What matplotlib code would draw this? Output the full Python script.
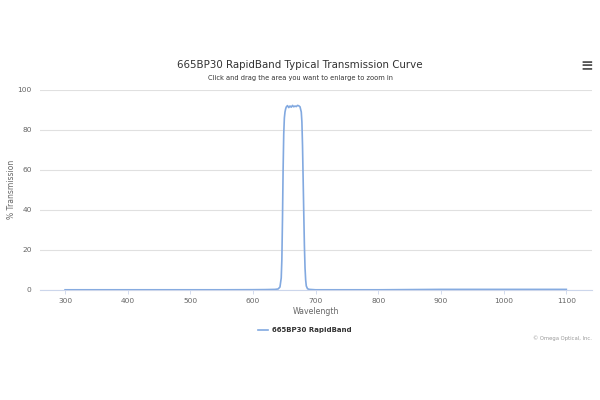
import matplotlib
matplotlib.use("Agg")
import matplotlib.pyplot as plt

# transmission curve
wavelength = [300, 350, 400, 450, 500, 550, 600, 620, 635, 640, 643, 645, 646, 647,
              648, 649, 650, 651, 652, 653, 655, 657, 659, 661, 663, 665, 667, 669,
              671, 673, 675, 677, 678, 679, 680, 681, 682, 683, 684, 685, 687, 690,
              700, 750, 800, 850, 900, 950, 1000, 1050, 1100]
transmission = [0.1, 0.1, 0.1, 0.1, 0.1, 0.1, 0.15, 0.2, 0.3, 0.5, 1.5, 6, 15, 35,
                60, 78, 86, 89, 90.5, 91.5, 92.2, 91.2, 92.0, 91.4, 92.3, 91.6, 92.0, 91.7,
                92.3, 92.1, 91.6, 89, 84, 72, 55, 38, 22, 11, 5, 2, 0.6, 0.3,
                0.1, 0.1, 0.1, 0.2, 0.3, 0.3, 0.3, 0.3, 0.3]

xticks = [300, 400, 500, 600, 700, 800, 900, 1000, 1100]
yticks = [0, 20, 40, 60, 80, 100]

series_name = "665BP30 RapidBand"
line_color = "#82a9e0"
text_color = "#666666"
grid_color = "#e0e0e0"

plt.rcParams["font.family"] = "DejaVu Sans"

fig = plt.figure(figsize=(6, 4), dpi=100)
ax = fig.add_axes([40 / 600, 1 - 290 / 400, 552 / 600, 200 / 400])

ax.plot(wavelength, transmission, color=line_color, lw=1.2, solid_joinstyle="round")

ax.set_xlim(260, 1141)
ax.set_ylim(0, 100)
ax.set_xticks(xticks)
ax.set_yticks(yticks)
ax.tick_params(axis="x", colors=text_color, labelsize=5.4, length=3, width=0.6,
               color="#ccd6eb", pad=3)
ax.tick_params(axis="y", colors=text_color, labelsize=5.4, length=0, pad=6)
ax.grid(axis="y", color=grid_color, lw=0.8)
ax.set_axisbelow(True)
for side in ["top", "right", "left"]:
    ax.spines[side].set_visible(False)
ax.spines["bottom"].set_color("#ccd6eb")
ax.spines["bottom"].set_linewidth(0.8)

ax.set_xlabel("Wavelength", fontsize=5.6, color=text_color, labelpad=2)
fig.text(12 / 600, 1 - 189 / 400, "% Transmission", rotation=90, fontsize=5.5,
         color=text_color, ha="center", va="center")

fig.text(0.5, 1 - 65 / 400, "665BP30 RapidBand Typical Transmission Curve",
         fontsize=7.4, color="#333333", ha="center", va="center")
fig.text(0.5, 1 - 78 / 400, "Click and drag the area you want to enlarge to zoom in",
         fontsize=4.8, color="#333333", ha="center", va="center")
fig.text(587 / 600, 1 - 66 / 400, "\u2261", fontsize=11, color="#555555",
         ha="center", va="center", fontweight="bold")

# legend
fig.lines.append(plt.Line2D([258 / 600, 268 / 600], [1 - 330 / 400, 1 - 330 / 400],
                            transform=fig.transFigure, color=line_color, lw=1.2))
fig.text(272 / 600, 1 - 330 / 400, series_name, fontsize=5, fontweight="bold",
         color="#333333", ha="left", va="center")
fig.text(592 / 600, 1 - 338 / 400, "\u00a9 Omega Optical, Inc.", fontsize=3.8,
         color="#999999", ha="right", va="center")

fig.savefig("out.png", dpi=100)
